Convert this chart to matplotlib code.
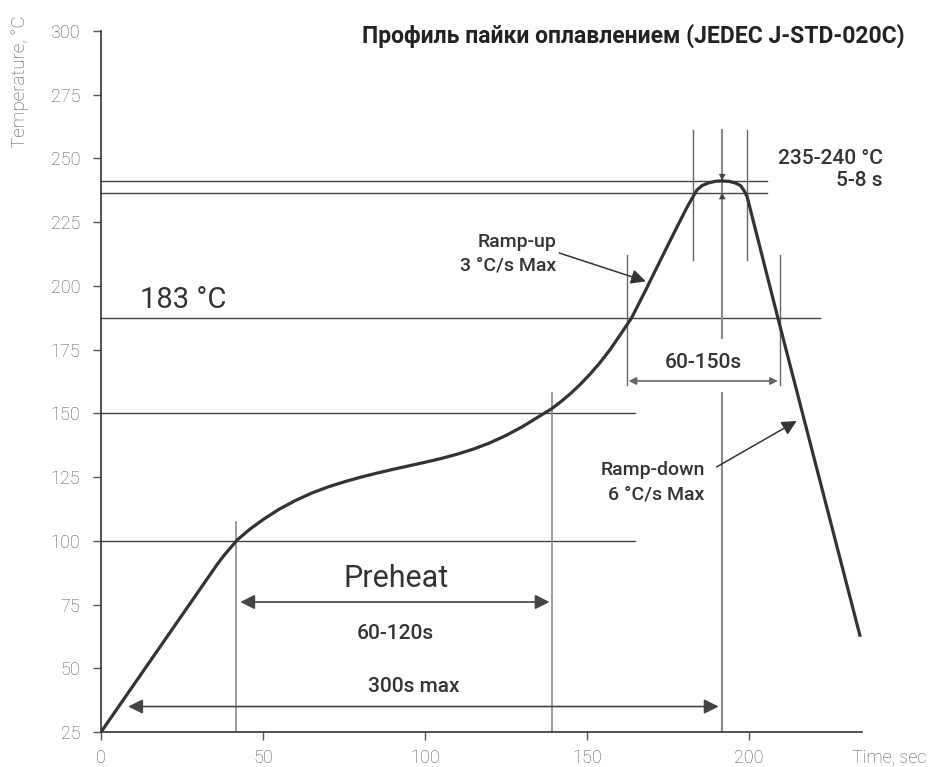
import matplotlib
matplotlib.use('Agg')
import matplotlib.pyplot as plt

# reflow profile: time (s) and temperature (°C)
time = [0, 36, 38, 40, 42, 46, 50, 55, 60, 65, 70, 75, 80, 85, 90, 95, 100, 105,
        110, 115, 120, 125, 130, 135, 139.1, 142, 145, 148, 151, 154, 157, 160,
        163.8, 168, 172.5, 177, 181, 182.8, 184, 185.5, 187.5, 190, 191.7, 194,
        196, 197.5, 198.5, 199.5, 209, 234.3]
temp = [25, 91, 94.3, 97.3, 100.3, 104.6, 108.3, 112.4, 115.8, 118.7, 121.1, 123.1,
        124.9, 126.5, 128.0, 129.4, 130.8, 132.3, 134.0, 136.0, 138.4, 141.3, 144.7,
        148.6, 151.8, 154.6, 157.8, 161.4, 165.4, 169.8, 174.7, 180.2, 187.4, 197.9,
        209.5, 221, 231, 235, 237.6, 239.3, 240.4, 241.1, 241.2, 241, 240.3, 239.3,
        237.5, 235, 187.4, 63]

# reference levels (temperature, end time)
h_levels = [241.3, 236.6, 187.5, 150, 100]
h_ends = [205.6, 205.6, 222, 165, 165]

# preheat / peak / liquidus markers
preheat_start, preheat_end = 41.8, 139.1
peak_time = 191.8
peak_left, peak_right = 182.8, 199.4
liq_left, liq_right = 162.3, 209.6

x_ticks = [0, 50, 100, 150, 200]
y_ticks = [25, 50, 75, 100, 125, 150, 175, 200, 225, 250, 275, 300]

plt.rcParams['font.family'] = ['Roboto', 'DejaVu Sans']

fig = plt.figure(figsize=(9.31, 7.67), dpi=100)
ax = fig.add_axes([0.1085, 0.0456, 0.926 - 0.1085, 0.9596 - 0.0456])
ax.set_xlim(0, 235)
ax.set_ylim(25, 300)

for s in ['top', 'right']:
    ax.spines[s].set_visible(False)
for s in ['left', 'bottom']:
    ax.spines[s].set_color('#333333')
    ax.spines[s].set_linewidth(1.2)

ax.set_xticks(x_ticks)
ax.set_yticks(y_ticks)
ax.tick_params(direction='out', length=6, width=1, color='#555555',
               labelcolor='#555555', labelsize=13)
ax.tick_params(axis='y', pad=9)
ax.tick_params(axis='x', pad=6)
for lab in ax.get_xticklabels() + ax.get_yticklabels():
    lab.set_fontweight('light')

# reference lines
for lvl, end in zip(h_levels, h_ends):
    ax.plot([0, end], [lvl, lvl], color='#444444', lw=1.0, clip_on=False)

vcol = '#8a8a8a'
ax.plot([preheat_start, preheat_start], [25, 107.5], color=vcol, lw=1.2)
ax.plot([preheat_end, preheat_end], [25, 158], color=vcol, lw=1.2)
ax.plot([peak_time, peak_time], [25, 158], color=vcol, lw=1.5)
ax.plot([peak_time, peak_time], [179.5, 261], color=vcol, lw=1.5)
ax.plot([peak_left, peak_left], [210, 261], color='#666666', lw=1.0)
ax.plot([peak_right, peak_right], [210, 261], color='#666666', lw=1.0)
ax.plot([liq_left, liq_left], [161, 212], color='#666666', lw=1.0)
ax.plot([liq_right, liq_right], [161, 212], color='#666666', lw=1.0)

# profile curve
ax.plot(time, temp, color='#333333', lw=2.3, solid_joinstyle='round', zorder=5)

tc = '#333333'


def dbl_arrow(x0, x1, y, scale, color):
    ax.annotate('', xy=(x1, y), xytext=(x0, y),
                arrowprops=dict(arrowstyle='<|-|>', color=color, lw=1.2,
                                mutation_scale=scale, shrinkA=0, shrinkB=0))


dbl_arrow(43, 138.5, 76, 22, '#444444')
dbl_arrow(8.4, 190.7, 35, 22, '#444444')
dbl_arrow(liq_left + 0.6, liq_right - 0.6, 162.7, 11, '#666666')

# peak arrows
ax.annotate('', xy=(peak_time, 241.3), xytext=(peak_time, 252),
            arrowprops=dict(arrowstyle='-|>', color='#444444', lw=0.01,
                            mutation_scale=12, shrinkA=0, shrinkB=0))
ax.annotate('', xy=(peak_time, 236.6), xytext=(peak_time, 226),
            arrowprops=dict(arrowstyle='-|>', color='#444444', lw=0.01,
                            mutation_scale=12, shrinkA=0, shrinkB=0))

# ramp arrows
ax.annotate('', xy=(168.2, 201.8), xytext=(141.5, 212.9),
            arrowprops=dict(arrowstyle='-|>', color='#333333', lw=1.1,
                            mutation_scale=22, shrinkA=0, shrinkB=0))
ax.annotate('', xy=(214.8, 147), xytext=(190.1, 129),
            arrowprops=dict(arrowstyle='-|>', color='#333333', lw=1.1,
                            mutation_scale=22, shrinkA=0, shrinkB=0))

# labels
mw = 'medium'
ax.text(12, 194.5, '183 °C', fontsize=21, color=tc, ha='left', va='center')
ax.text(91, 85.4, 'Preheat', fontsize=22, color=tc, ha='center', va='center')
ax.text(91, 63.5, '60-120s', fontsize=15, color=tc, ha='center', va='center',
        fontweight=mw)
ax.text(96.5, 43, '300s max', fontsize=15, color=tc, ha='center', va='center',
        fontweight=mw)
ax.text(186, 170, '60-150s', fontsize=15, color=tc, ha='center', va='center',
        fontweight=mw)
ax.text(140.7, 212.5, 'Ramp-up\n3 °C/s Max', fontsize=14, color=tc, fontweight=mw,
        ha='right', va='center', multialignment='right', linespacing=1.4)
ax.text(186.4, 123, 'Ramp-down\n6 °C/s Max', fontsize=14, color=tc, fontweight=mw,
        ha='right', va='center', multialignment='right', linespacing=1.4)
ax.text(241.4, 245.5, '235-240 °C\n5-8 s', fontsize=15, color=tc, fontweight=mw,
        ha='right', va='center', multialignment='right', linespacing=1.2,
        clip_on=False)

fig.text(0.972, 0.954, 'Профиль пайки оплавлением (JEDEC J-STD-020C)',
         fontsize=16.5, fontweight='bold', color='#222222', ha='right', va='center')
fig.text(0.0215, 0.98, 'Temperature, °C', rotation=90, fontsize=13.5,
         fontweight='light', color='#555555', ha='center', va='top')
fig.text(0.915, 0.013, 'Time, sec', fontsize=13, fontweight='light',
         color='#555555', ha='left', va='center')

fig.savefig('out.png', dpi=100)
